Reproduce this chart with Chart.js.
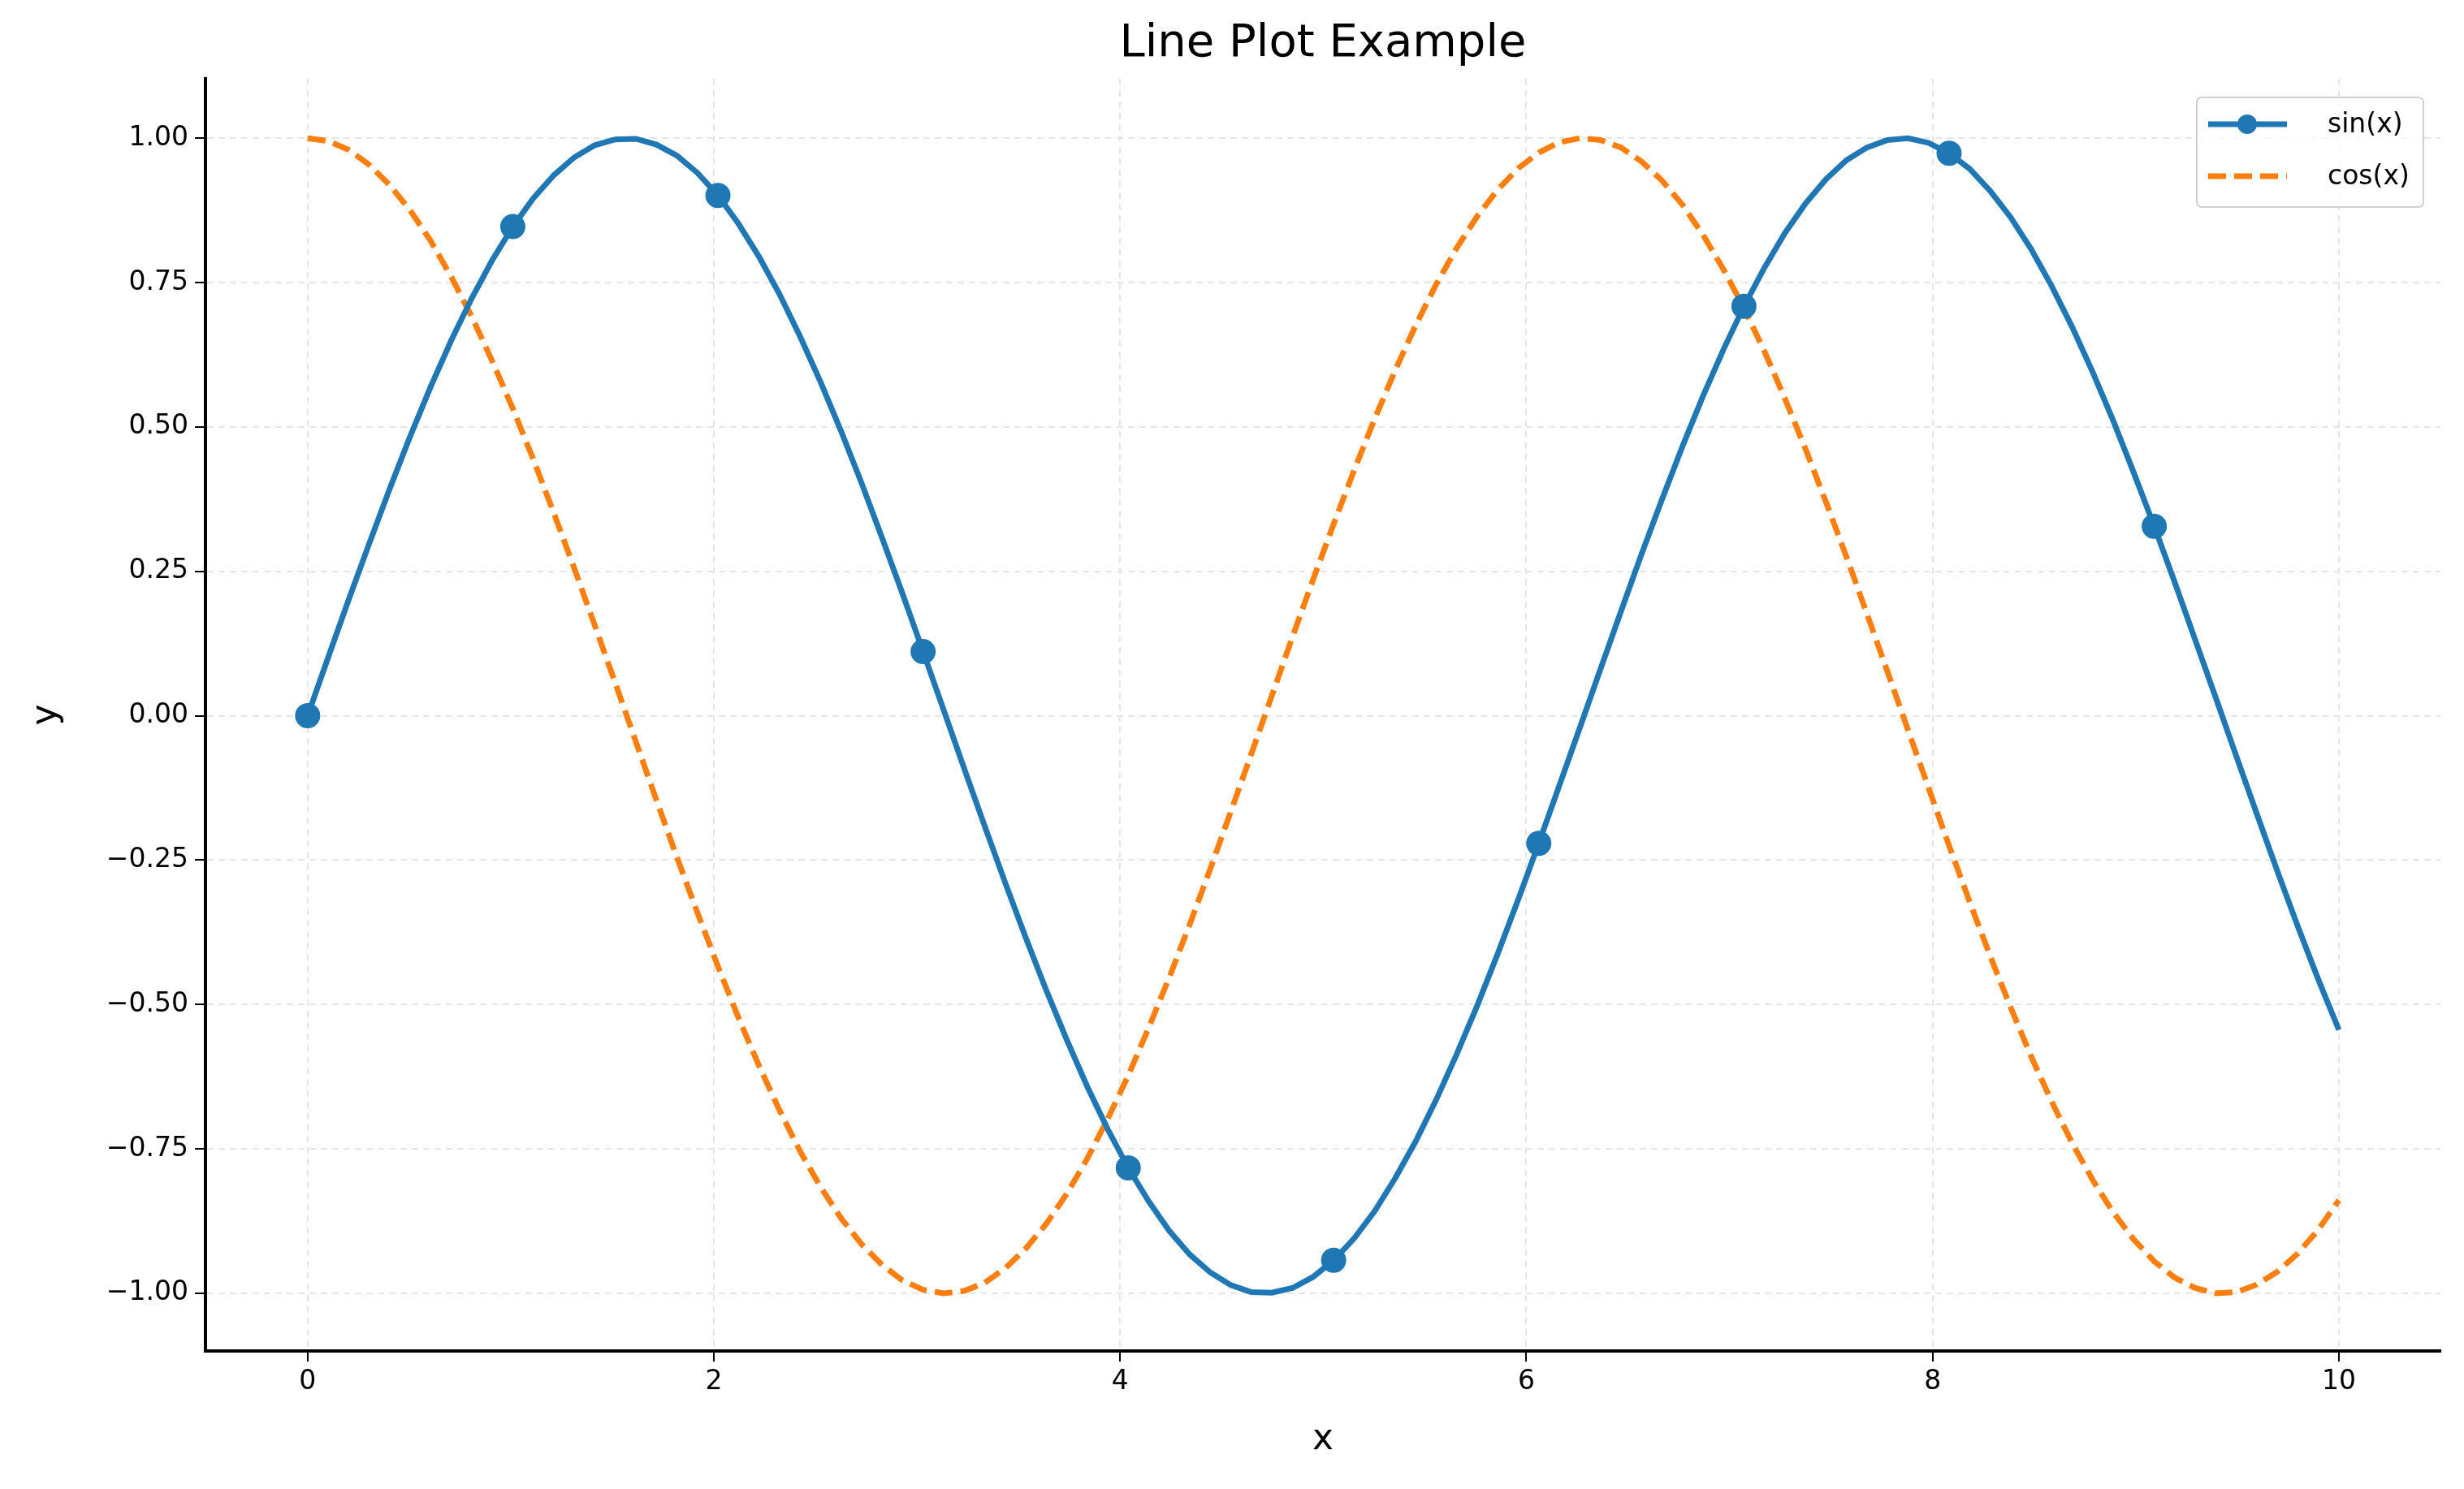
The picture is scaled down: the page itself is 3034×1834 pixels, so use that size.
<!DOCTYPE html>
<html><head><meta charset="utf-8">
<script src="https://cdn.jsdelivr.net/npm/chart.js@4"></script>
<style>html,body{margin:0;padding:0;background:#fff}canvas{display:block}</style>
</head><body>
<div style="width:3034px;height:1834px"><canvas id="c" width="3034" height="1834"></canvas></div>
<script>
const xs = [0,0.101,0.202,0.303,0.404,0.505,0.606,0.707,0.808,0.909,1.010,1.111,1.212,1.313,1.414,1.515,1.616,1.717,1.818,1.919,2.020,2.121,2.222,2.323,2.424,2.525,2.626,2.727,2.828,2.929,3.030,3.131,3.232,3.333,3.434,3.535,3.636,3.737,3.838,3.939,4.040,4.141,4.242,4.343,4.444,4.545,4.646,4.747,4.848,4.949,5.051,5.152,5.253,5.354,5.455,5.556,5.657,5.758,5.859,5.960,6.061,6.162,6.263,6.364,6.465,6.566,6.667,6.768,6.869,6.970,7.071,7.172,7.273,7.374,7.475,7.576,7.677,7.778,7.879,7.980,8.081,8.182,8.283,8.384,8.485,8.586,8.687,8.788,8.889,8.990,9.091,9.192,9.293,9.394,9.495,9.596,9.697,9.798,9.899,10];
const sinY = [0,0.101,0.201,0.298,0.393,0.484,0.570,0.650,0.723,0.789,0.847,0.896,0.936,0.967,0.988,0.998,0.999,0.989,0.970,0.940,0.901,0.852,0.795,0.730,0.657,0.578,0.493,0.403,0.308,0.211,0.111,0.010,-0.091,-0.191,-0.289,-0.384,-0.475,-0.561,-0.642,-0.716,-0.783,-0.841,-0.892,-0.933,-0.964,-0.986,-0.998,-0.999,-0.991,-0.972,-0.943,-0.905,-0.858,-0.801,-0.737,-0.665,-0.586,-0.502,-0.412,-0.318,-0.221,-0.121,-0.021,0.080,0.180,0.279,0.374,0.466,0.553,0.634,0.709,0.776,0.836,0.887,0.929,0.962,0.984,0.997,1.000,0.992,0.974,0.947,0.909,0.863,0.808,0.744,0.673,0.595,0.511,0.421,0.328,0.231,0.131,0.031,-0.070,-0.170,-0.269,-0.365,-0.457,-0.544];
const cosY = [1,0.995,0.980,0.954,0.919,0.875,0.822,0.760,0.691,0.614,0.532,0.444,0.351,0.255,0.156,0.056,-0.045,-0.146,-0.245,-0.341,-0.434,-0.523,-0.606,-0.683,-0.754,-0.816,-0.870,-0.915,-0.951,-0.978,-0.994,-1.000,-0.996,-0.982,-0.957,-0.923,-0.880,-0.828,-0.767,-0.698,-0.623,-0.540,-0.453,-0.361,-0.265,-0.166,-0.066,0.035,0.136,0.235,0.332,0.425,0.514,0.598,0.676,0.747,0.810,0.865,0.911,0.948,0.975,0.993,1.000,0.997,0.984,0.960,0.927,0.885,0.833,0.773,0.706,0.631,0.549,0.462,0.370,0.275,0.176,0.076,-0.025,-0.125,-0.225,-0.322,-0.416,-0.505,-0.590,-0.668,-0.740,-0.804,-0.860,-0.907,-0.945,-0.973,-0.991,-1.000,-0.998,-0.985,-0.963,-0.931,-0.890,-0.839];
const xTicks = [0,2,4,6,8,10];
const yTicks = [-1.00,-0.75,-0.50,-0.25,0.00,0.25,0.50,0.75,1.00];
const FONT = "'DejaVu Sans', sans-serif";
const BLUE = '#1f77b4', ORANGE = '#ff7f0e';

const extra = {
  id: 'extra',
  afterDraw(ch) {
    const c = ch.ctx, a = ch.chartArea;
    c.save();
    c.fillStyle = '#000'; c.textAlign = 'center'; c.textBaseline = 'middle';
    c.font = `56px ${FONT}`;
    c.fillText('Line Plot Example', (a.left + a.right) / 2, 54);
    c.font = `44px ${FONT}`;
    c.fillText('x', (a.left + a.right) / 2, 1774);
    c.save(); c.translate(58, (a.top + a.bottom) / 2); c.rotate(-Math.PI / 2); c.fillText('y', 0, 0); c.restore();
    // legend
    const bx = 2705, by = 120, bw = 279, bh = 135;
    c.fillStyle = 'rgba(255,255,255,0.8)'; c.strokeStyle = '#d0d0d0'; c.lineWidth = 2;
    c.beginPath(); c.roundRect(bx, by, bw, bh, 6); c.fill(); c.stroke();
    c.lineWidth = 7; c.strokeStyle = BLUE;
    c.beginPath(); c.moveTo(2719, 153); c.lineTo(2816, 153); c.stroke();
    c.fillStyle = BLUE; c.beginPath(); c.arc(2767, 153, 12, 0, Math.PI * 2); c.fill();
    c.strokeStyle = ORANGE; c.setLineDash([22, 10]);
    c.beginPath(); c.moveTo(2719, 217); c.lineTo(2816, 217); c.stroke(); c.setLineDash([]);
    c.fillStyle = '#000'; c.textAlign = 'left'; c.font = `33px ${FONT}`;
    c.fillText('sin(x)', 2866, 154); c.fillText('cos(x)', 2866, 218);
    c.restore();
  }
};

new Chart(document.getElementById('c'), {
  type: 'line',
  data: { datasets: [
    { label: 'sin(x)', data: xs.map((x, i) => ({ x, y: sinY[i] })), borderColor: BLUE, backgroundColor: BLUE,
      borderWidth: 7, pointRadius: ctx => ctx.dataIndex % 10 === 0 ? 12 : 0, pointHoverRadius: 0, tension: 0 },
    { label: 'cos(x)', data: xs.map((x, i) => ({ x, y: cosY[i] })), borderColor: ORANGE, backgroundColor: ORANGE,
      borderWidth: 7, borderDash: [22, 10], pointRadius: 0, tension: 0 }
  ]},
  options: {
    responsive: false, animation: false, devicePixelRatio: 1,
    layout: { padding: { top: 97, right: 29, left: 0, bottom: 0 } },
    plugins: { legend: { display: false }, title: { display: false }, tooltip: { enabled: false } },
    scales: {
      x: { type: 'linear', min: -0.503, max: 10.5,
        afterBuildTicks: s => { s.ticks = xTicks.map(v => ({ value: v })); },
        afterFit: s => { s.height = 170; },
        ticks: { font: { family: FONT, size: 33 }, color: '#000', padding: 6, maxRotation: 0, callback: v => String(v) },
        grid: { color: '#e6e6e6', lineWidth: 2, tickColor: '#000', tickLength: 13, tickWidth: 2 },
        border: { display: true, color: '#000', width: 4, dash: [8, 6] } },
      y: { min: -1.1, max: 1.103,
        afterBuildTicks: s => { s.ticks = yTicks.map(v => ({ value: v })); },
        afterFit: s => { s.width = 253; },
        ticks: { font: { family: FONT, size: 33 }, color: '#000', padding: 8,
          callback: v => (v < 0 ? '\u2212' : '') + Math.abs(v).toFixed(2) },
        grid: { color: '#e6e6e6', lineWidth: 2, tickColor: '#000', tickLength: 13, tickWidth: 2 },
        border: { display: true, color: '#000', width: 4, dash: [8, 6] } }
    }
  },
  plugins: [extra]
});
</script>
</body></html>
